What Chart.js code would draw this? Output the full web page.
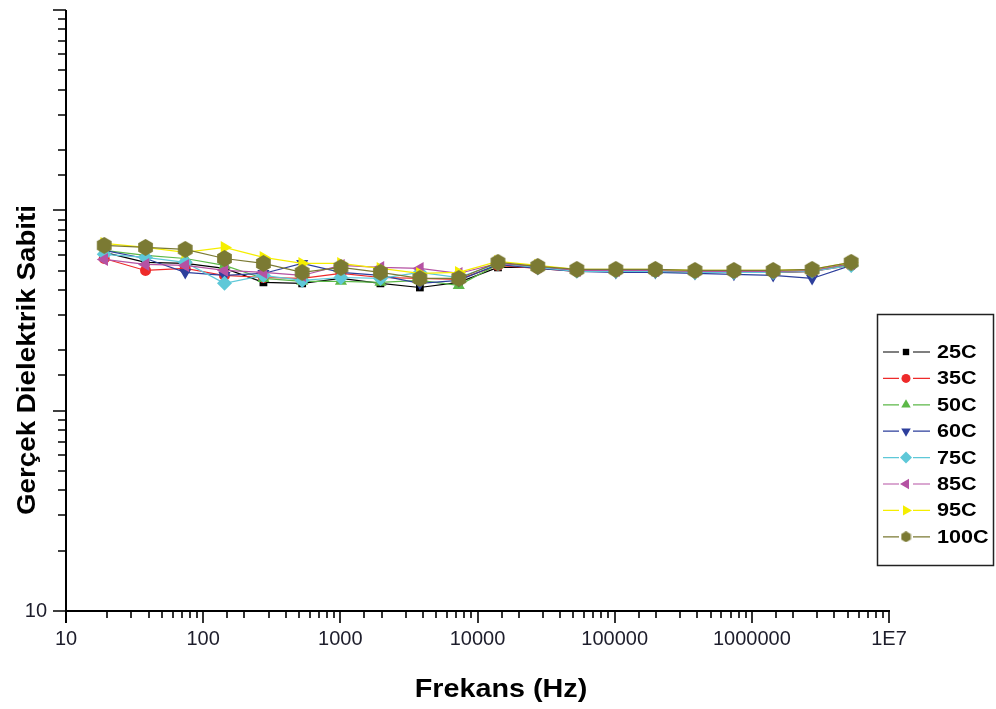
<!DOCTYPE html>
<html>
<head>
<meta charset="utf-8">
<script src="https://cdn.jsdelivr.net/npm/chart.js@4/dist/chart.umd.min.js"></script>
<style>
  html, body { margin: 0; padding: 0; background: #fff; }
  #wrap { width: 996px; height: 709px; position: relative; }
</style>
</head>
<body>
<div id="wrap"><canvas id="c" width="996" height="709"></canvas></div>
<script>
// ---- data ----
const frequencies = [19, 38, 74, 143, 275, 527, 1010, 1960, 3800, 7300, 14100, 27500, 53000, 102000, 198000, 385000, 740000, 1430000, 2750000, 5300000];
const seriesNames = ['25C', '35C', '50C', '60C', '75C', '85C', '95C', '100C'];
const s25C  = [617, 550, 543, 513, 437, 432, 457, 432, 412, 437, 519, 519, 496, 496, 490, 490, 490, 490, 496, 537];
const s35C  = [575, 501, 513, 473, 462, 457, 484, 462, 457, 452, 531, 513, 496, 496, 496, 490, 490, 490, 496, 531];
const s50C  = [631, 596, 575, 531, 457, 442, 442, 437, 447, 422, 537, 519, 501, 501, 501, 496, 496, 496, 501, 537];
const s60C  = [631, 575, 490, 473, 484, 543, 490, 473, 432, 447, 537, 513, 496, 490, 490, 484, 479, 473, 457, 531];
const s75C  = [603, 582, 550, 432, 473, 447, 462, 457, 490, 462, 543, 519, 496, 496, 496, 490, 490, 490, 496, 531];
const s85C  = [569, 537, 531, 501, 490, 473, 531, 519, 513, 484, 543, 525, 501, 501, 501, 496, 496, 496, 501, 543];
const s95C  = [684, 653, 617, 653, 582, 543, 543, 513, 484, 490, 556, 531, 507, 507, 507, 501, 501, 501, 507, 550];
const s100C = [668, 653, 638, 575, 543, 490, 519, 490, 457, 457, 550, 525, 507, 507, 507, 501, 501, 501, 507, 550];
const xTickLabels = {10: '10', 100: '100', 1000: '1000', 10000: '10000', 100000: '100000', 1000000: '1000000', 10000000: '1E7'};
const yTickLabels = {10: '10'};
const xTitle = 'Frekans (Hz)';
const yTitle = 'Gerçek Dielektrik Sabiti';

// ---- styles ----
const colors = ['#000000', '#ee2a2a', '#5cb848', '#2d3f9c', '#5ec8d8', '#b552a3', '#f5ee00', '#7b7a33'];
function hexCanvas(size, color) {
  const c = document.createElement('canvas');
  c.width = size; c.height = size;
  const g = c.getContext('2d');
  const r = size / 2;
  g.fillStyle = color;
  g.beginPath();
  for (let i = 0; i < 6; i++) {
    const a = Math.PI / 6 + i * Math.PI / 3;
    const px = r + r * Math.cos(a), py = r + r * Math.sin(a);
    if (i === 0) g.moveTo(px, py); else g.lineTo(px, py);
  }
  g.closePath(); g.fill();
  return c;
}
const markers = [
  {style: 'rect', radius: 5.5, rot: 0},
  {style: 'circle', radius: 5.5, rot: 0},
  {style: 'triangle', radius: 7, rot: 0},
  {style: 'triangle', radius: 7, rot: 180},
  {style: 'rectRot', radius: 7.5, rot: 0},
  {style: 'triangle', radius: 7.5, rot: 270},
  {style: 'triangle', radius: 7.5, rot: 90},
  {style: hexCanvas(17, colors[7]), radius: 8.5, rot: 0}
];
const legendMarkers = [
  {style: 'rect', radius: 4.5, rot: 0},
  {style: 'circle', radius: 4.5, rot: 0},
  {style: 'triangle', radius: 5.5, rot: 0},
  {style: 'triangle', radius: 5.5, rot: 180},
  {style: 'rectRot', radius: 6, rot: 0},
  {style: 'triangle', radius: 6, rot: 270},
  {style: 'triangle', radius: 6, rot: 90},
  {style: hexCanvas(11, colors[7]), radius: 5.5, rot: 0}
];
const allSeries = [s25C, s35C, s50C, s60C, s75C, s85C, s95C, s100C];

const datasets = allSeries.map((vals, i) => ({
  label: seriesNames[i],
  data: frequencies.map((f, j) => ({x: f, y: vals[j]})),
  borderColor: colors[i],
  backgroundColor: colors[i],
  borderWidth: 1.2,
  pointStyle: markers[i].style,
  pointRadius: markers[i].radius,
  pointRotation: markers[i].rot,
  pointBorderWidth: 0,
  pointHoverRadius: markers[i].radius,
  order: allSeries.length - i,
  tension: 0
}));

const AREA = {left: 66, top: 10, right: 889, bottom: 611};
const TEXT_COLOR = '#1d1d2b';

function stretchedText(ctx, text, x, y, sx, rot) {
  ctx.save();
  ctx.translate(x, y);
  if (rot) ctx.rotate(rot);
  ctx.scale(sx, 1);
  ctx.fillText(text, 0, 0);
  ctx.restore();
}

const decorPlugin = {
  id: 'decor',
  afterDraw(chart) {
    const ctx = chart.ctx;
    const xs = chart.scales.x, ys = chart.scales.y;
    const a = chart.chartArea;
    ctx.save();
    ctx.strokeStyle = '#000';
    ctx.lineWidth = 2;
    // axis lines
    ctx.beginPath();
    ctx.moveTo(a.left, a.top); ctx.lineTo(a.left, a.bottom + 12);
    ctx.moveTo(a.left - 1, a.bottom); ctx.lineTo(a.right + 1, a.bottom);
    ctx.stroke();
    // ticks
    ctx.lineWidth = 1.6;
    ctx.beginPath();
    xs.ticks.forEach(t => {
      const px = Math.round(xs.getPixelForValue(t.value));
      const len = t.major ? 12 : 7;
      ctx.moveTo(px, a.bottom); ctx.lineTo(px, a.bottom + len);
    });
    ys.ticks.forEach(t => {
      const py = Math.round(ys.getPixelForValue(t.value));
      const len = t.major ? 13 : 8;
      ctx.moveTo(a.left, py); ctx.lineTo(a.left - len, py);
    });
    ctx.stroke();

    // axis titles
    ctx.fillStyle = '#000';
    ctx.font = 'bold 25px "Liberation Sans", Arial, sans-serif';
    ctx.textAlign = 'center';
    ctx.textBaseline = 'middle';
    stretchedText(ctx, xTitle, 501, 690, 1.15, 0);
    stretchedText(ctx, yTitle, 28, 360, 1.11, -Math.PI / 2);

    // legend
    const box = {x: 877.5, y: 314.5, w: 116, h: 251};
    ctx.lineWidth = 1.5;
    ctx.strokeStyle = '#222';
    ctx.strokeRect(box.x, box.y, box.w, box.h);
    const draw = Chart.helpers && Chart.helpers.drawPoint;
    seriesNames.forEach((name, i) => {
      const y = 352 + i * 26.4;
      ctx.strokeStyle = colors[i];
      ctx.lineWidth = 1.2;
      ctx.beginPath();
      ctx.moveTo(883, y); ctx.lineTo(899, y);
      ctx.moveTo(913, y); ctx.lineTo(930, y);
      ctx.stroke();
      const m = legendMarkers[i];
      ctx.fillStyle = colors[i];
      if (draw) {
        draw(ctx, {pointStyle: m.style, rotation: m.rot, radius: m.radius, borderWidth: 0}, 906, y);
      }
      ctx.fillStyle = '#000';
      ctx.font = 'bold 18px "Liberation Sans", Arial, sans-serif';
      ctx.textAlign = 'left';
      ctx.textBaseline = 'middle';
      stretchedText(ctx, name, 937, y + 1, 1.2, 0);
    });
    ctx.restore();
  }
};

function pinPadding(s) {
  s.paddingTop = 0; s.paddingBottom = 0; s.paddingLeft = 0; s.paddingRight = 0;
}

new Chart(document.getElementById('c'), {
  type: 'line',
  data: {datasets},
  options: {
    responsive: false,
    animation: false,
    events: [],
    layout: {padding: {left: 0, top: AREA.top, right: 996 - AREA.right, bottom: 0}},
    plugins: {legend: {display: false}, tooltip: {enabled: false}},
    scales: {
      x: {
        type: 'logarithmic',
        min: 10, max: 10000000,
        grid: {display: false, drawTicks: false, tickLength: 0},
        border: {display: false},
        ticks: {
          autoSkip: false, maxRotation: 0, minRotation: 0,
          padding: 16,
          color: TEXT_COLOR,
          font: {family: '"Liberation Sans", Arial, sans-serif', size: 20},
          callback: (v) => xTickLabels[v] || ''
        },
        afterFit(s) { s.height = 709 - AREA.bottom; pinPadding(s); }
      },
      y: {
        type: 'logarithmic',
        min: 10, max: 10000,
        grid: {display: false, drawTicks: false, tickLength: 0},
        border: {display: false},
        ticks: {
          autoSkip: false,
          padding: 19,
          color: TEXT_COLOR,
          font: {family: '"Liberation Sans", Arial, sans-serif', size: 20},
          callback: (v) => yTickLabels[v] || ''
        },
        afterFit(s) { s.width = AREA.left; pinPadding(s); }
      }
    }
  },
  plugins: [decorPlugin]
});
</script>
</body>
</html>
